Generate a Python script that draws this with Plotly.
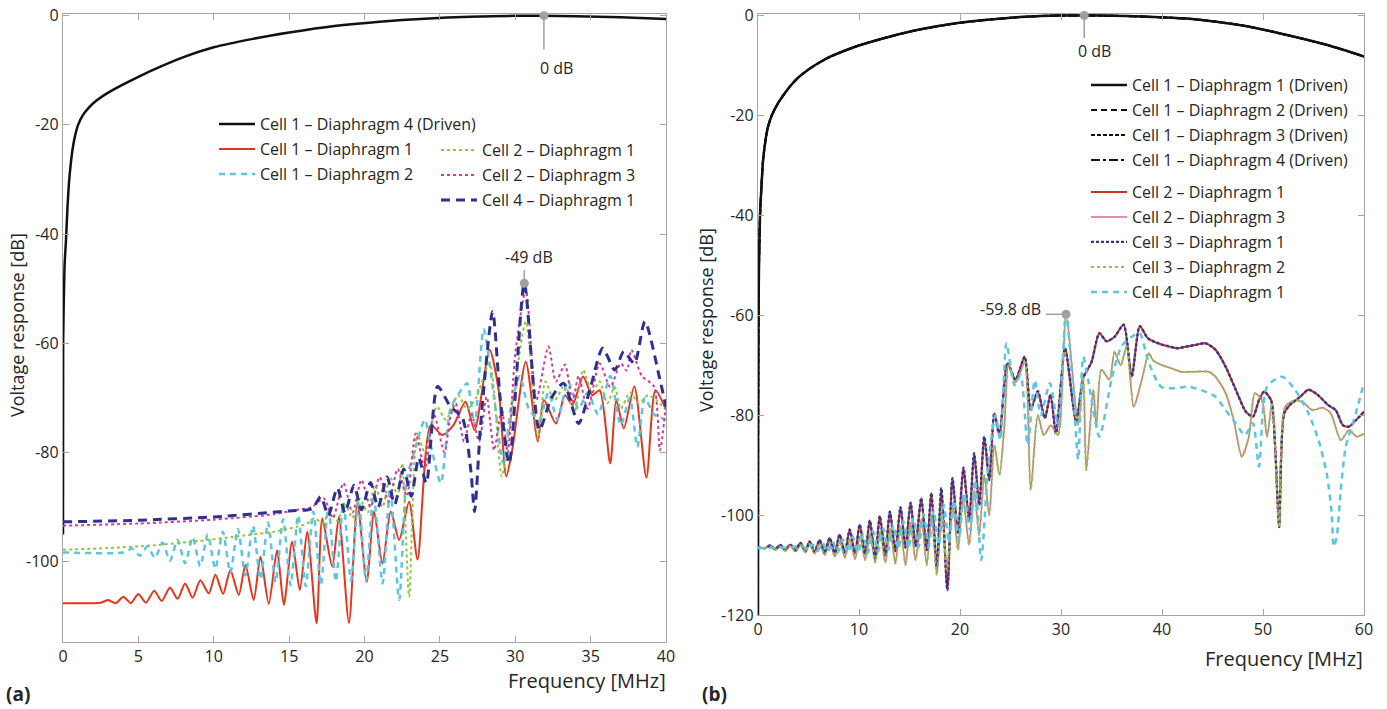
import plotly.graph_objects as go

# ---------------- data : panel (a) ----------------
black_a_f = [0, 0.01, 0.1, 0.2, 0.3, 0.4, 0.5, 0.65, 0.8, 1.0, 1.3, 1.7, 2.2, 3, 4, 5, 6.5, 8, 10, 12.5,
             15, 18, 21, 24, 27, 30, 31.7, 34, 37, 40]
black_a_v = [-95, -60, -46, -41, -35, -30.5, -27.5, -24.2, -22.0, -20.0, -18.3, -16.9, -15.6, -14.1, -12.6, -11.2, -9.3, -7.6, -5.8, -4.3,
             -3.1, -1.9, -1.1, -0.55, -0.2, -0.03, 0, -0.1, -0.3, -0.6]

red_a_f = [0, 2.5, 3.0, 3.5, 4.0, 4.5, 5.0, 5.5, 6.05, 6.55, 7.1, 7.6, 8.1, 8.6, 9.11, 9.67, 10.11, 10.62, 11.1, 11.66,
           12.1, 12.65, 13.1, 13.65, 14.2, 14.65, 15.2, 15.71, 16.2, 16.82, 17.2, 17.86, 18.3, 18.97, 19.53, 20.15, 20.63, 21.19, 21.74, 22.3,
           22.96, 23.52, 24.4, 25.17, 25.9, 26.7, 27.3, 28.3, 28.9, 29.4, 29.8, 30.7, 31.5, 31.9, 32.7, 33.3, 33.8, 34.5, 35.1, 35.6,
           36.3, 36.7, 37.2, 37.9, 38.7, 39.3, 40]
red_a_v = [-107.6, -107.5, -107.0, -107.6, -106.4, -107.6, -105.9, -107.5, -105.3, -107.2, -104.7, -106.8, -104.0, -106.6, -103.4, -105.8, -102.4, -105.9, -101.5, -106.1,
           -100.6, -107.0, -99.1, -107.7, -97.9, -107.9, -96.3, -105.2, -94.5, -111.3, -92.1, -100.9, -91.8, -111.2, -89.3, -103.7, -90.8, -100.3, -90.8, -96.0,
           -89.0, -99.6, -75.0, -76.8, -75.0, -70.7, -75.9, -61.2, -68.6, -84.4, -79.5, -63.4, -78.0, -70.4, -74.7, -69.5, -71.3, -66.1, -69.5, -68.6,
           -82.0, -70.4, -75.6, -67.9, -84.6, -68.6, -72.2]

cyan_a_f = [0, 4, 4.6, 5.1, 5.6, 6.1, 6.6, 7.1, 7.6, 8.1, 8.6, 9.1, 9.6, 10.1, 10.6, 11.1, 11.6, 12.1, 12.6, 13.1,
            13.6, 14.1, 14.6, 15.1, 15.6, 16.1, 16.6, 17.1, 17.6, 18.1, 18.6, 19.1, 19.6, 20.1, 20.6, 21.2, 21.7, 22.3, 22.8, 23.4,
            24.0, 24.5, 25.06, 25.7, 26.3, 26.8, 27.3, 27.9, 28.6, 29.2, 29.7, 30.3, 30.9, 31.6, 32.2, 32.8, 33.5, 34.2, 34.8, 35.5,
            36.3, 37.0, 37.6, 38.1, 38.6, 39.2, 40]
cyan_a_v = [-98.3, -98.3, -97.6, -98.9, -97.2, -99.3, -96.5, -99.8, -96.0, -100.3, -95.5, -100.8, -95.0, -101.3, -94.5, -102.0, -94.0, -102.5, -93.4, -103.2,
            -92.8, -103.8, -92.2, -104.3, -91.5, -104.5, -90.8, -104.2, -90.0, -103.6, -89.2, -103.5, -88.5, -103.5, -87.7, -104.0, -86.5, -107.0, -85.0, -79.0,
            -74.0, -80.0, -85.6, -72.0, -69.0, -67.3, -75.0, -57.4, -70.0, -82.0, -72.0, -66.0, -72.0, -74.0, -69.0, -74.0, -67.0, -72.0, -69.0, -73.0,
            -66.0, -75.0, -70.0, -79.0, -70.0, -73.0, -74.0]

green_a_f = [0, 3, 6, 9, 12, 14, 15.5, 16.2, 16.7, 17.2, 17.7, 18.2, 18.7, 19.2, 19.7, 20.2, 20.7, 21.2, 21.7, 22.2,
             22.5, 22.96, 23.5, 24.0, 24.8, 25.4, 26.2, 26.8, 27.4, 28.3, 29.1, 29.6, 30.7, 31.5, 32.0, 32.6, 33.3, 33.9, 34.5, 35.1,
             35.6, 36.1, 36.6, 37.0, 37.6, 38.2, 38.8, 39.4, 40]
green_a_v = [-97.8, -97.5, -97.0, -96.2, -95.2, -94.5, -93.6, -93.0, -92.0, -93.0, -91.0, -92.5, -89.5, -92.0, -88.5, -91.0, -86.0, -90.0, -84.5, -88.0,
             -82.0, -106.4, -76.5, -80.0, -71.6, -74.0, -69.5, -72.0, -70.0, -63.7, -84.4, -76.0, -56.0, -77.6, -67.0, -70.5, -67.5, -73.0, -64.9, -69.0,
             -67.0, -71.0, -68.0, -72.0, -69.0, -71.0, -69.5, -70.5, -72.2]

pink_a_f = [0, 5, 10, 14, 15.5, 16.5, 17.3, 17.9, 18.6, 19.2, 19.8, 20.4, 21.0, 21.6, 22.2, 22.8, 23.4, 24.0, 24.6, 25.3,
            25.7, 26.05, 26.6, 27.1, 27.6, 28.1, 28.6, 29.1, 29.5, 30.0, 30.7, 31.4, 32.2, 32.7, 33.3, 33.8, 34.2, 34.8, 35.6, 36.3,
            37.0, 37.4, 37.7, 38.4, 39.2, 39.6, 40]
pink_a_v = [-93.4, -93.0, -92.3, -91.3, -90.5, -90.0, -88.4, -92.0, -85.6, -91.0, -85.0, -90.0, -84.5, -89.0, -83.0, -88.0, -76.5, -83.0, -73.0, -80.0,
            -73.4, -71.0, -78.0, -73.0, -78.0, -69.8, -79.6, -72.0, -80.0, -62.0, -50.2, -70.4, -60.6, -67.0, -63.9, -71.0, -66.0, -72.0, -63.7, -68.0,
            -63.7, -65.0, -61.2, -66.0, -67.9, -79.6, -71.0]

navy_a_f = [0, 5, 10, 15, 16.5, 17.1, 17.6, 18.2, 18.7, 19.3, 19.8, 20.4, 20.9, 21.5, 22.0, 22.6, 23.1, 23.6, 24.1, 24.85,
            25.7, 26.5, 27.05, 27.3, 27.7, 28.5, 29.0, 29.6, 30.6, 31.6, 32.4, 33.2, 34.2, 35.0, 35.8, 36.6, 37.2, 37.9, 38.6, 39.6, 40]
navy_a_v = [-92.7, -92.4, -91.8, -90.7, -90.3, -88.1, -91.5, -86.5, -91.0, -86.0, -90.5, -85.5, -90.0, -84.5, -89.5, -83.0, -88.0, -81.0, -85.6, -67.9,
            -71.6, -73.7, -83.2, -90.8, -75.0, -54.2, -70.0, -82.0, -49.0, -75.9, -70.0, -67.3, -74.7, -68.0, -60.9, -64.9, -61.5, -63.7, -56.0, -66.7, -71.6]

# ---------------- data : panel (b) ----------------
black_b_f = [0, 0.01, 0.05, 0.1, 0.2, 0.35, 0.5, 0.8, 1.0, 1.36, 2, 2.6, 3.2, 4, 5, 6, 7.2, 8.5, 10, 13.1,
             16, 19.75, 23, 26, 28, 30, 32.3, 35, 38, 40.3, 43, 45.2, 48, 50.2, 53, 56, 58, 60]
black_b_v = [-120, -85, -60, -50, -40, -34, -29, -24.2, -22.2, -20, -17.5, -15.7, -14.1, -12.4, -10.8, -9.5, -8.2, -7.1, -6.0, -4.2,
             -2.8, -1.5, -0.8, -0.3, -0.1, 0, 0, -0.05, -0.2, -0.4, -0.7, -1.2, -2.0, -2.9, -4.2, -5.7, -6.9, -8.2]

upper_b_f = [0, 0.7, 1.2, 1.7, 2.2, 2.7, 3.2, 3.7, 4.2, 4.7, 5.1, 5.6, 6.1, 6.6, 7.09, 7.6, 8.08, 8.6, 9.08, 9.6,
             10.07, 10.6, 11.07, 11.6, 12.06, 12.6, 13.05, 13.6, 14.11, 14.6, 15.11, 15.6, 16.16, 16.7, 17.16, 17.7, 18.15, 18.75, 19.25, 19.8,
             20.34, 20.9, 21.4, 21.9, 22.4, 22.9, 23.4, 23.9, 24.7, 25.5, 26.4, 27.0, 27.7, 28.4, 28.96, 29.5, 30.4, 31.5, 32.2, 33.0,
             33.8, 34.5, 35.3, 36.2, 37.0, 37.8, 38.6, 39.6, 40.6, 41.6, 42.6, 43.4, 44.3, 45.3, 46.3, 47.3, 48.3, 49.0, 49.6, 50.1,
             50.8, 51.2, 51.6, 52.1, 52.7, 53.7, 54.5, 55.4, 56.4, 57.2, 57.9, 58.5, 59.2, 60]
upper_b_v = [-106.5, -106.6, -106.1, -106.8, -106.0, -106.9, -105.9, -107.0, -105.6, -107.2, -105.3, -107.3, -105.0, -107.5, -104.6, -107.6, -103.9, -107.5, -102.9, -107.6,
             -101.9, -107.8, -101.1, -108.6, -100.2, -108.0, -99.3, -107.2, -98.4, -106.5, -97.5, -106.2, -96.6, -107.0, -95.6, -110.5, -94.6, -115.0, -92.6, -103.5,
             -90.5, -101.0, -87.6, -98.0, -84.3, -93.0, -79.6, -84.0, -69.6, -72.9, -68.3, -78.9, -75.2, -80.6, -75.9, -83.7, -66.6, -81.3, -72.5, -69.5,
             -63.6, -65.2, -64.3, -61.9, -72.3, -62.2, -64.6, -65.6, -66.2, -66.6, -66.2, -65.9, -65.6, -66.9, -70.3, -74.9, -79.3, -80.3, -77.0, -75.3,
             -77.0, -86.3, -102.4, -79.6, -77.9, -76.3, -74.9, -75.9, -77.9, -79.0, -82.0, -82.3, -81.0, -79.3]

lower_b_f = [0, 0.7, 1.2, 1.7, 2.2, 2.7, 3.2, 3.7, 4.2, 4.7, 5.1, 5.6, 6.1, 6.6, 7.1, 7.6, 8.1, 8.6, 9.1, 9.6,
             10.1, 10.6, 11.1, 11.6, 12.1, 12.6, 13.1, 13.6, 14.1, 14.6, 15.1, 15.6, 16.2, 16.7, 17.2, 17.7, 18.2, 18.7, 19.3, 19.8,
             20.3, 20.9, 21.4, 21.9, 22.4, 22.9, 23.4, 23.9, 24.4, 24.8, 25.5, 26.4, 27.0, 27.7, 28.3, 29.0, 29.7, 30.5, 31.7, 32.2,
             32.5, 33.2, 33.5, 34.0, 34.8, 35.3, 35.9, 36.5, 37.2, 38.0, 38.7, 39.1, 39.9, 40.9, 41.9, 43.3, 44.6, 45.3, 46.3, 47.1,
             47.9, 48.6, 49.2, 49.9, 50.4, 50.9, 51.6, 52.2, 53.2, 54.0, 54.9, 55.9, 56.7, 57.7, 58.5, 59.3, 60]
lower_b_v = [-106.5, -106.6, -106.3, -107.0, -106.3, -107.2, -106.2, -107.3, -106.0, -107.5, -105.8, -107.7, -105.7, -108.0, -105.5, -108.3, -105.2, -108.5, -104.8, -108.8,
             -104.2, -109.0, -103.8, -109.5, -103.3, -109.5, -102.8, -109.7, -102.2, -110.0, -101.6, -109.0, -100.8, -110.0, -100.0, -112.0, -99.0, -111.0, -98.0, -107.0,
             -96.5, -106.0, -95.0, -104.0, -92.0, -100.0, -86.0, -92.0, -82.0, -70.0, -73.5, -69.5, -95.0, -80.0, -84.0, -82.0, -84.0, -59.8, -82.0, -72.3,
             -91.0, -74.9, -82.3, -70.9, -72.9, -67.3, -70.0, -66.2, -78.3, -72.9, -67.6, -69.0, -69.9, -70.6, -71.3, -71.3, -71.3, -72.3, -75.6, -81.0,
             -88.3, -84.3, -75.6, -77.0, -84.3, -77.5, -102.4, -78.3, -77.0, -77.5, -79.0, -78.5, -79.6, -85.0, -83.0, -84.3, -83.7]

cyan_b_f = [0, 3.0, 4.4, 4.9, 5.4, 5.9, 6.4, 6.9, 7.4, 7.9, 8.4, 8.9, 9.4, 9.9, 10.4, 10.9, 11.4, 11.9, 12.4, 12.9,
            13.4, 13.9, 14.4, 14.9, 15.4, 15.9, 16.4, 16.9, 17.4, 17.9, 18.4, 18.9, 19.4, 19.9,
            20.4, 21.0, 21.5, 22.1, 22.8, 23.5, 24.0, 24.6, 25.4, 26.0, 26.7, 27.4, 28.0, 28.9, 29.7, 30.5, 31.2, 31.7, 32.2, 32.7,
            33.8, 35.0, 36.0, 37.0, 37.8, 38.6, 39.9, 41.3, 42.6, 43.9, 45.3, 46.3, 47.3, 48.2, 49.0, 49.6, 50.4, 51.9, 53.2, 54.5,
            55.5, 56.3, 56.8, 57.0, 57.3, 57.7, 58.2, 59.2, 60]
cyan_b_v = [-106.6, -106.5, -106.2, -107.0, -105.9, -107.2, -105.6, -107.4, -105.3, -107.5, -104.9, -107.6, -104.4, -107.6, -103.9, -107.5, -103.3, -107.3, -102.7, -107.0,
            -102.0, -106.8, -101.3, -106.6, -100.6, -106.4, -99.8, -106.2, -99.0, -106.0, -98.0, -105.5, -97.0, -105.0,
            -95.5, -103, -93, -109, -90, -80, -85, -65.6, -74, -72, -86, -73, -80, -73.6, -82, -59.6, -75, -88.9, -68.3, -73,
            -84.3, -72.9, -66.2, -64.3, -63.6, -69.0, -74.3, -74.6, -74.3, -75.0, -76.3, -79.0, -81.6, -84, -81.6, -90.3, -74.3, -72.3, -75.0, -79.6,
            -85.0, -91.6, -99.6, -106.3, -104.3, -95, -86.3, -79.6, -73.5]

# axis ticks
xticks_a = [0, 5, 10, 15, 20, 25, 30, 35, 40]
yticks_a = [0, -20, -40, -60, -80, -100]
xticks_b = [0, 10, 20, 30, 40, 50, 60]
yticks_b = [0, -20, -40, -60, -80, -100, -120]

# annotated points
mark_a_f = [31.9, 30.6]
mark_a_v = [0.0, -49.0]
mark_b_f = [32.3, 30.5]
mark_b_v = [0.0, -59.8]

for a, b in [(black_a_f, black_a_v), (red_a_f, red_a_v), (cyan_a_f, cyan_a_v), (green_a_f, green_a_v),
             (pink_a_f, pink_a_v), (navy_a_f, navy_a_v), (black_b_f, black_b_v), (upper_b_f, upper_b_v),
             (lower_b_f, lower_b_v), (cyan_b_f, cyan_b_v)]:
    assert len(a) == len(b), (len(a), len(b))

# ---------------- geometry helpers ----------------
W, H = 1387, 709


def px_x(x):
    return x / W


def px_y(y):
    return 1 - y / H


FONT = "Open Sans"
TXT = "#262626"
AX = "#a8a2a2"

fig = go.Figure()


def add(fx, fy, name, color, width, dash, xa, ya, legend, shape="spline", smooth=0.7, group=None):
    fig.add_trace(go.Scatter(
        x=fx, y=fy, mode="lines", name=name,
        line=dict(color=color, width=width, dash=dash, shape=shape, smoothing=smooth if shape == "spline" else None),
        xaxis=xa, yaxis=ya, legend=legend, legendgroup=group or name, hoverinfo="skip"))


# panel (a)
add(black_a_f, black_a_v, "Cell 1 – Diaphragm 4 (Driven)", "#111111", 2.5, "solid", "x", "y", "legend", smooth=0.6)
add(red_a_f, red_a_v, "Cell 1 – Diaphragm 1", "#e8341c", 2, "solid", "x", "y", "legend")
add(cyan_a_f, cyan_a_v, "Cell 1 – Diaphragm 2", "#5cc5e6", 2.5, "6px,5px", "x", "y", "legend")
add(green_a_f, green_a_v, "Cell 2 – Diaphragm 1", "#8dc641", 2, "dot", "x", "y", "legend2")
add(pink_a_f, pink_a_v, "Cell 2 – Diaphragm 3", "#d6399b", 2, "dot", "x", "y", "legend2")
add(navy_a_f, navy_a_v, "Cell 4 – Diaphragm 1", "#2e3192", 3, "9px,6px", "x", "y", "legend2")

# panel (b)
add(black_b_f, black_b_v, "Cell 1 – Diaphragm 1 (Driven)", "#111111", 2.5, "solid", "x2", "y2", "legend3", smooth=0.6)
add(black_b_f, black_b_v, "Cell 1 – Diaphragm 2 (Driven)", "#111111", 2, "6px,4px", "x2", "y2", "legend3", smooth=0.6)
add(black_b_f, black_b_v, "Cell 1 – Diaphragm 3 (Driven)", "#111111", 2, "4px,2px", "x2", "y2", "legend3", smooth=0.6)
add(black_b_f, black_b_v, "Cell 1 – Diaphragm 4 (Driven)", "#111111", 2, "dashdot", "x2", "y2", "legend3", smooth=0.6, group="b4")
add(upper_b_f, upper_b_v, "Cell 2 – Diaphragm 1", "#c8321e", 2, "solid", "x2", "y2", "legend4", group="b5")
add(lower_b_f, lower_b_v, "Cell 2 – Diaphragm 3", "#e0609f", 1.5, "solid", "x2", "y2", "legend4", group="b6")
add(upper_b_f, upper_b_v, "Cell 3 – Diaphragm 1", "#34349a", 2.4, "3px,2px", "x2", "y2", "legend4", group="b7")
add(lower_b_f, lower_b_v, "Cell 3 – Diaphragm 2", "#8dc641", 2, "dot", "x2", "y2", "legend4", group="b8")
add(cyan_b_f, cyan_b_v, "Cell 4 – Diaphragm 1", "#5cc5e6", 2.5, "6px,5px", "x2", "y2", "legend4", group="b9")

# markers of the labelled points
fig.add_trace(go.Scatter(x=mark_a_f, y=mark_a_v, mode="markers", marker=dict(size=9, color="#a0a0a0"),
                         xaxis="x", yaxis="y", showlegend=False, hoverinfo="skip", cliponaxis=False))
fig.add_trace(go.Scatter(x=mark_b_f, y=mark_b_v, mode="markers", marker=dict(size=9, color="#a0a0a0"),
                         xaxis="x2", yaxis="y2", showlegend=False, hoverinfo="skip", cliponaxis=False))

axis_common = dict(showline=True, linecolor=AX, linewidth=1.3, mirror="ticks", ticks="inside", ticklen=6,
                   tickcolor=AX, tickwidth=1.2, showgrid=False, zeroline=False, automargin=False,
                   ticklabeloverflow="allow",
                   tickfont=dict(family=FONT, size=16, color=TXT))


def labels(vals):
    return [str(v) for v in vals]


fig.update_layout(
    template="none",
    width=W, height=H, margin=dict(l=0, r=0, t=0, b=0, autoexpand=False),
    paper_bgcolor="white", plot_bgcolor="white",
    font=dict(family=FONT, color=TXT),
    xaxis=dict(axis_common, domain=[px_x(63), px_x(666)], range=[0, 40],
               tickvals=xticks_a, ticktext=labels(xticks_a), anchor="y"),
    yaxis=dict(axis_common, domain=[px_y(642), px_y(14)], range=[-114.7, 0.3],
               tickvals=yticks_a, ticktext=labels(yticks_a), anchor="x"),
    xaxis2=dict(axis_common, domain=[px_x(758), px_x(1364)], range=[0, 60],
                tickvals=xticks_b, ticktext=labels(xticks_b), anchor="y2"),
    yaxis2=dict(axis_common, domain=[px_y(615), px_y(14)], range=[-120, 0.3],
                tickvals=yticks_b, ticktext=labels(yticks_b), anchor="x2"),
    showlegend=True,
)

leg_common = dict(xanchor="left", yanchor="top", bgcolor="rgba(255,255,255,0)", borderwidth=0,
                  font=dict(family=FONT, size=16, color=TXT), traceorder="grouped", tracegroupgap=1.2,
                  itemwidth=36)
fig.update_layout(
    legend=dict(leg_common, x=px_x(214), y=px_y(107)),
    legend2=dict(leg_common, x=px_x(436), y=px_y(133)),
    legend3=dict(leg_common, x=px_x(1086), y=px_y(68)),
    legend4=dict(leg_common, x=px_x(1086), y=px_y(175)),
)

# stems of the labelled points
stem = dict(color="#a0a0a0", width=1.5)
fig.add_shape(type="line", xref="x", yref="y", x0=mark_a_f[0], x1=mark_a_f[0], y0=mark_a_v[0], y1=mark_a_v[0] - 6.2, line=stem)
fig.add_shape(type="line", xref="x", yref="y", x0=mark_a_f[1], x1=mark_a_f[1], y0=mark_a_v[1], y1=mark_a_v[1] + 2.4, line=stem)
fig.add_shape(type="line", xref="x2", yref="y2", x0=mark_b_f[0], x1=mark_b_f[0], y0=mark_b_v[0], y1=mark_b_v[0] - 4.5, line=stem)
fig.add_shape(type="line", xref="x2", yref="y2", x0=mark_b_f[1] - 2.0, x1=mark_b_f[1], y0=mark_b_v[1], y1=mark_b_v[1], line=stem)


def note(text, x, y, size=15, xanchor="center", yanchor="middle", angle=0, bold=False):
    fig.add_annotation(text=f"<b>{text}</b>" if bold else text, x=px_x(x), y=px_y(y), xref="paper", yref="paper",
                       showarrow=False, xanchor=xanchor, yanchor=yanchor, textangle=angle,
                       font=dict(family=FONT, size=size, color=TXT))


note("0 dB", 556, 68, size=16)
note("-49 dB", 529, 257, size=16)
note("0 dB", 1094, 51, size=16)
note("-59.8 dB", 1043, 309, size=16, xanchor="right")

note("Voltage response [dB]", 17, 325, size=18, angle=-90)
note("Voltage response [dB]", 706, 320, size=18, angle=-90)
note("Frequency [MHz]", 668, 680, size=20, xanchor="right")
note("Frequency [MHz]", 1365, 658, size=20, xanchor="right")
note("(a)", 4, 694, size=19, xanchor="left", bold=True)
note("(b)", 700, 694, size=19, xanchor="left", bold=True)

fig.write_html("out.html", config={"displayModeBar": False},
               post_script="document.body.style.margin='0px';document.documentElement.style.overflow='hidden';")
